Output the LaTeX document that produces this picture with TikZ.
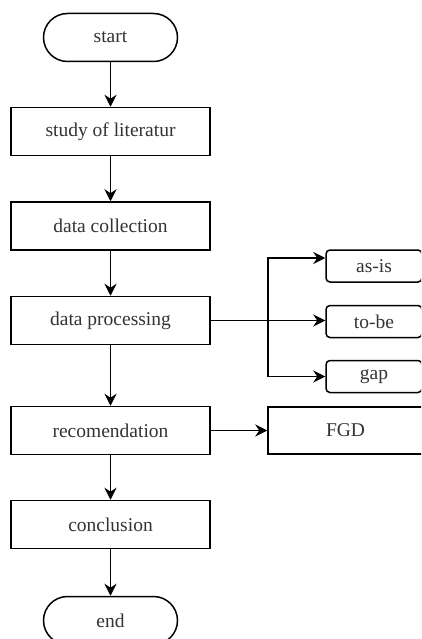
\documentclass[tikz,border=0pt]{standalone}
\usepackage{fontspec}
\setmainfont{Liberation Serif}
\usetikzlibrary{arrows.meta}
\begin{document}
\begin{tikzpicture}[x=1bp,y=-1bp,
  txt/.style={font=\fontsize{19.5bp}{23bp}\selectfont, text=black!80},
  proc/.style={txt, draw, line width=1.5bp, minimum width=199bp, minimum height=48bp, inner sep=0pt},
  term/.style={proc, minimum width=134bp, rounded corners=24bp},
  opt/.style={proc, minimum width=96bp, minimum height=32bp, rounded corners=4bp},
  side/.style={proc, minimum width=155bp, minimum height=47bp},
  flow/.style={-{Stealth[length=12bp,width=12bp,inset=4bp]}, line width=1.6bp},
  link/.style={line width=1.6bp}]
  \clip (0,0) rectangle (421,639);
  \fill[white] (0,0) rectangle (421,639);

  % main column
  \node[term] (start) at (110.5,37.5) {start};
  \node[proc] (lit)   at (110.5,131.5) {study of literatur};
  \node[proc] (coll)  at (110.5,226) {data collection};
  \node[proc] (proc)  at (110.5,320.5) {data processing};
  \node[proc] (rec)   at (110.5,430.5) {recomendation};
  \node[proc] (conc)  at (110.5,524.5) {conclusion};
  \node[term] (end)   at (110.5,620.5) {end};

  % side outputs
  \node[opt]  (asis) at (374,266) {as-is};
  \node[opt]  (tobe) at (374,321.5) {to-be};
  \node[opt]  (gap)  at (374,376.5) {gap};
  \node[side] (fgd)  at (345.5,430.5) {FGD};

  % main flow
  \draw[flow] (start) -- (lit);
  \draw[flow] (lit) -- (coll);
  \draw[flow] (coll) -- (proc);
  \draw[flow] (proc) -- (rec);
  \draw[flow] (rec) -- (conc);
  \draw[flow] (conc) -- (end);
  \draw[flow] (rec) -- (fgd);

  % branch from data processing
  \coordinate (fork) at (268,320.5);
  \coordinate (asisin) at ([yshift=8bp]asis.west);
  \draw[link] (proc.east) -- (fork);
  \draw[flow] (fork) -- (fork -| tobe.west);
  \draw[flow] (fork) |- (asisin);
  \draw[flow] (fork) |- (gap.west);
\end{tikzpicture}
\end{document}
